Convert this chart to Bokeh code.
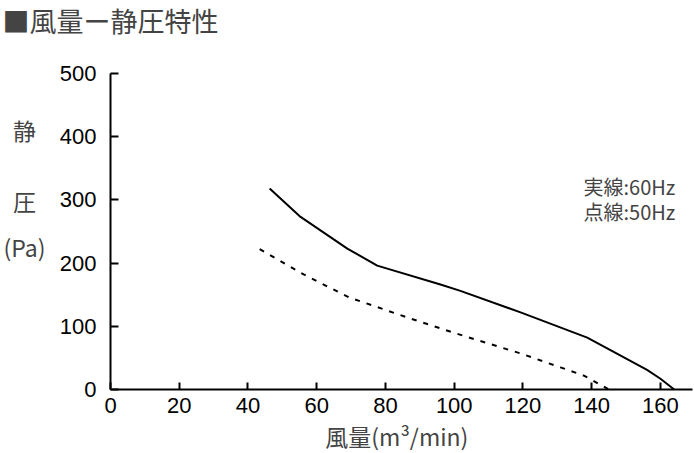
from bokeh.plotting import figure
from bokeh.models import Label, Range1d, SingleIntervalTicker
from bokeh.embed import file_html
from bokeh.resources import INLINE

# 風量-静圧 characteristic
flow_60hz = [46.3, 55.3, 68.9, 77.6, 96.0, 101.8, 119.3, 138.7, 156.1, 160.0, 164.0]
pressure_60hz = [318, 273, 223, 196, 166, 156, 122, 82, 31, 17, 0]

flow_50hz = [43.4, 56.2, 69.3, 86.3, 100.9, 119.3, 130.9, 137.7, 145.0]
pressure_50hz = [222, 182, 146, 114, 88, 57, 35, 22, 0]

x_ticks_step = 20
y_ticks_step = 100

JP = "Noto Sans CJK JP"
NUM = "Liberation Sans"

# the frame fills the page; the axes sit at x=0 / y=0 so the texts
# around them can be drawn as labels without being clipped
p = figure(width=694, height=453, output_backend="svg", toolbar_location=None,
           x_range=Range1d(-32.0, 169.9), y_range=Range1d(-101.3, 615.5),
           min_border=0)
p.outline_line_color = None
p.xgrid.grid_line_color = None
p.ygrid.grid_line_color = None
p.background_fill_color = "white"

p.xaxis.ticker = SingleIntervalTicker(interval=x_ticks_step)
p.yaxis.ticker = SingleIntervalTicker(interval=y_ticks_step)
p.xaxis.fixed_location = 0
p.yaxis.fixed_location = 0
p.xaxis.bounds = (0, 169.3)
p.yaxis.bounds = (0, 500)
for ax, tick_in, standoff in ((p.xaxis, 7, 5), (p.yaxis, 8, 10)):
    ax.axis_line_color = "black"
    ax.axis_line_width = 2
    ax.major_tick_line_color = "black"
    ax.major_tick_line_width = 2
    ax.major_tick_in = tick_in
    ax.major_tick_out = 0
    ax.minor_tick_line_color = None
    ax.major_label_text_font = NUM
    ax.major_label_text_font_size = "22px"
    ax.major_label_text_color = "black"
    ax.major_label_standoff = standoff

p.line(flow_60hz, pressure_60hz, line_color="black", line_width=2)
p.line(flow_50hz, pressure_50hz, line_color="black", line_width=2, line_dash="5 7")

# texts around the axes
p.add_layout(Label(x=-31.4, y=584, text="■風量ー静圧特性", text_font=JP,
                   text_font_size="27px", text_align="left", text_baseline="middle"))
p.add_layout(Label(x=83.3, y=-73, text="風量(m³/min)", text_font=JP,
                   text_font_size="23px", text_align="center", text_baseline="middle"))
for txt, yy in (("静", 410), ("圧", 299), ("(Pa)", 226)):
    p.add_layout(Label(x=-25, y=yy, text=txt, text_font=JP, text_font_size="23px",
                       text_align="center", text_baseline="middle"))
for txt, yy in (("実線:60Hz", 321), ("点線:50Hz", 282)):
    p.add_layout(Label(x=137.6, y=yy, text=txt, text_font=JP, text_font_size="20px",
                       text_align="left", text_baseline="middle"))

open("out.html", "w").write(file_html(p, INLINE))
